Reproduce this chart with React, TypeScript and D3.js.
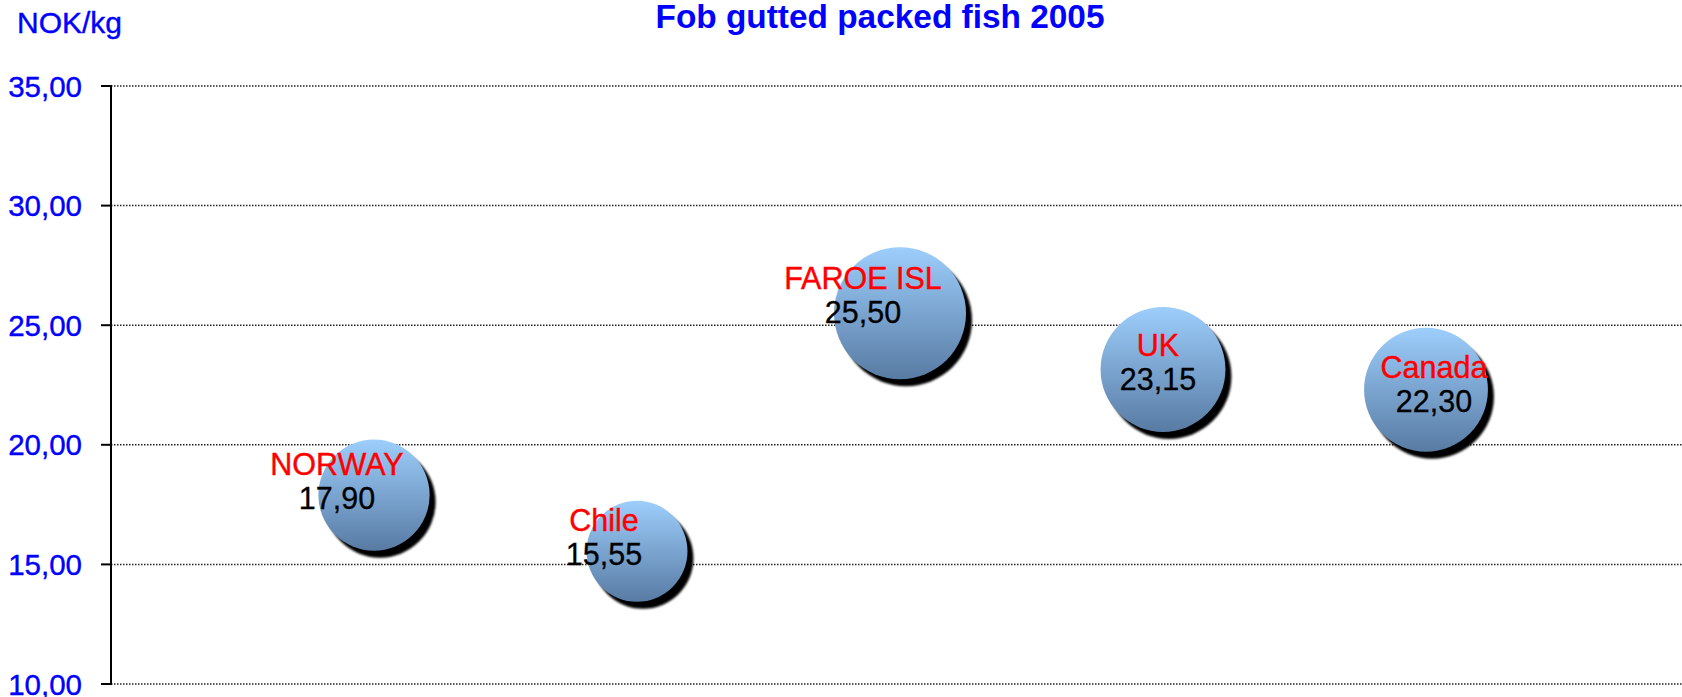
import React from "react";
import * as d3 from "d3";

const countries = ["NORWAY", "Chile", "FAROE ISL", "UK", "Canada"];
const prices = [17.9, 15.55, 25.5, 23.15, 22.3];
const bubbleSizes = [7.1, 5.85, 10, 8.95, 8.8];
const yTicks = [10, 15, 20, 25, 30, 35];

// label layout offsets (px) relative to bubble centre
const labelDx = [-37, -33, -37, -5, 8];
const labelDy = [-3, -3, -7, 4, 5];

const W = 1682;
const H = 697;
const FONT = "'Liberation Sans', Arial, sans-serif";

export default function App() {
  const x = d3.scaleLinear().domain([0, 6]).range([111, 1689]);
  const y = d3.scaleLinear().domain([10, 35]).range([684, 86]);
  const r = d3.scaleSqrt().domain([0, 10]).range([0, 66]);
  const fmt = (v: number) => d3.format(".2f")(v).replace(".", ",");

  return (
    <div style={{ position: "fixed", left: 0, top: 0 }}>
      <svg width={W} height={H} style={{ display: "block", background: "#fff" }}>
        <defs>
          <linearGradient id="bub" x1="0" y1="0" x2="0" y2="1">
            <stop offset="0%" stopColor="#9DCEFC" />
            <stop offset="100%" stopColor="#587BA3" />
          </linearGradient>
          <filter id="soft" x="-20%" y="-20%" width="140%" height="140%">
            <feGaussianBlur stdDeviation="0.8" />
          </filter>
        </defs>
        <text x={880} y={28} textAnchor="middle" fontFamily={FONT} fontWeight="bold" fontSize={33.4} fill="#0000FF">
          Fob gutted packed fish 2005
        </text>
        <text x={17} y={33} fontFamily={FONT} fontSize={30} fill="#0000FF" stroke="#0000FF" strokeWidth={0.4}>
          NOK/kg
        </text>
        {yTicks.map((t) => (
          <g key={t}>
            <line x1={111} x2={W} y1={y(t)} y2={y(t)} stroke="#222" strokeWidth={1.5} strokeDasharray="1.5,1.5" />
            <line x1={101} x2={111} y1={y(t)} y2={y(t)} stroke="#000" strokeWidth={2} />
            <text x={82} y={y(t)} dy="0.36em" textAnchor="end" fontFamily={FONT} fontSize={29.5} fill="#0000FF" stroke="#0000FF" strokeWidth={0.4}>
              {fmt(t)}
            </text>
          </g>
        ))}
        <line x1={111} x2={111} y1={y(35) - 1} y2={y(10) + 1} stroke="#000" strokeWidth={2} />
        {countries.map((c, i) => {
          const cx = x(i + 1);
          const cy = y(prices[i]);
          const rr = r(bubbleSizes[i]);
          return (
            <g key={c}>
              <circle cx={cx + 6} cy={cy + 7} r={rr} fill="#000" filter="url(#soft)" />
              <circle cx={cx} cy={cy} r={rr} fill="url(#bub)" />
            </g>
          );
        })}
        {countries.map((c, i) => {
          const cx = x(i + 1) + labelDx[i];
          const cy = y(prices[i]) + labelDy[i];
          return (
            <g key={c + "l"} fontFamily={FONT} fontSize={30.5} textAnchor="middle">
              <text x={cx} y={cy - 17} fill="#FF0000" stroke="#FF0000" strokeWidth={0.4}>{c}</text>
              <text x={cx} y={cy + 17} fill="#000" stroke="#000" strokeWidth={0.3}>{fmt(prices[i])}</text>
            </g>
          );
        })}
      </svg>
    </div>
  );
}
